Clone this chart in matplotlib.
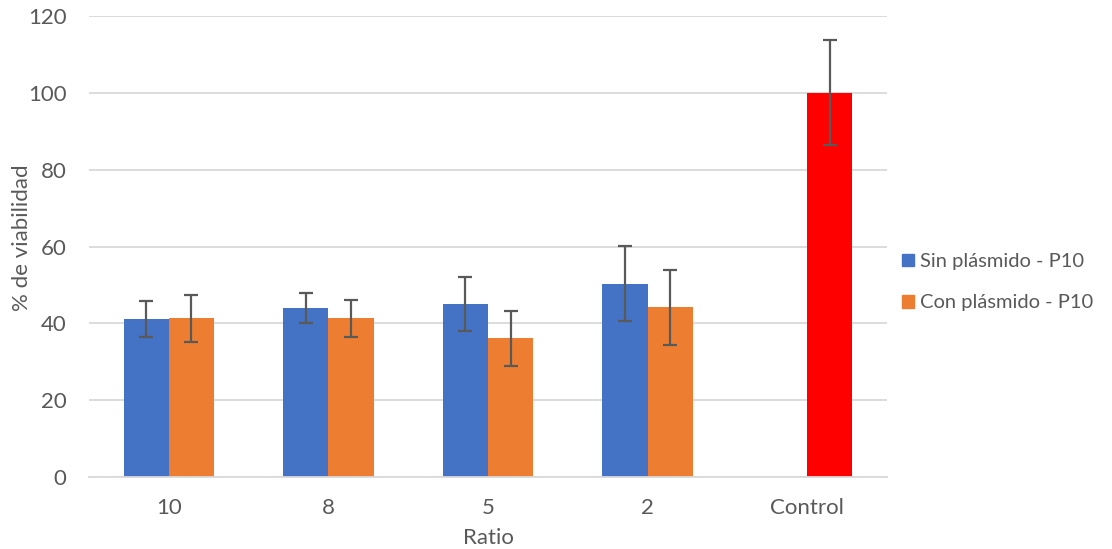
import numpy as np
import matplotlib.pyplot as plt

categories = ['10', '8', '5', '2', 'Control']
sin_vals = [41.1, 44.0, 45.0, 50.3, np.nan]
sin_err = [4.6, 4.0, 7.0, 9.8, np.nan]
con_vals = [41.3, 41.3, 36.1, 44.2, 100.0]
con_err = [6.2, 4.8, 7.1, 9.8, 13.7]
con_colors = ['#ED7D31', '#ED7D31', '#ED7D31', '#ED7D31', '#FF0000']

plt.rcParams['font.family'] = ['Lato', 'DejaVu Sans']
txt = '#595959'

fig = plt.figure(figsize=(11.12, 5.49), dpi=100)
ax = fig.add_axes([0.080, 0.1311, 0.7177, 0.8398])

x = np.arange(len(categories))
w = 0.283
ax.bar(x - w / 2, sin_vals, w, color='#4472C4', label='Sin plásmido - P10', zorder=2)
ax.bar(x + w / 2, con_vals, w, color=con_colors, label='Con plásmido - P10', zorder=2)
ax.errorbar(x - w / 2, sin_vals, yerr=sin_err, fmt='none', ecolor=txt, elinewidth=1.6, capsize=5, capthick=1.6, zorder=3)
ax.errorbar(x + w / 2, con_vals, yerr=con_err, fmt='none', ecolor=txt, elinewidth=1.6, capsize=5, capthick=1.6, zorder=3)

ax.set_xlim(-0.5, len(categories) - 0.5)
ax.set_ylim(0, 120)
ax.set_yticks(range(0, 121, 20))
ax.set_xticks(x)
ax.set_xticklabels(categories)
ax.yaxis.grid(True, color='#D9D9D9', linewidth=1.3, zorder=0)
ax.set_axisbelow(True)
for s in ['top', 'right', 'left']:
    ax.spines[s].set_visible(False)
ax.spines['bottom'].set_color('#D9D9D9')
ax.spines['bottom'].set_linewidth(1.3)
ax.tick_params(length=0, labelsize=16, colors=txt)
ax.tick_params(axis='x', pad=15)
ax.tick_params(axis='y', pad=16)
ax.set_xlabel('Ratio', fontsize=16, color=txt, labelpad=7)
ax.set_ylabel('% de viabilidad', fontsize=16, color=txt)
ax.yaxis.set_label_coords(-0.071, 0.52)

handles = [plt.Rectangle((0, 0), 1, 1, color='#4472C4'), plt.Rectangle((0, 0), 1, 1, color='#ED7D31')]
fig.legend(handles, ['Sin plásmido - P10', 'Con plásmido - P10'], loc='center left',
           bbox_to_anchor=(0.811, 0.486), frameon=False, fontsize=14.5, labelcolor=txt,
           handlelength=0.6, handleheight=0.6, handletextpad=0.3, labelspacing=1.2,
           borderaxespad=0, borderpad=0)

fig.savefig('out.png', dpi=100)
